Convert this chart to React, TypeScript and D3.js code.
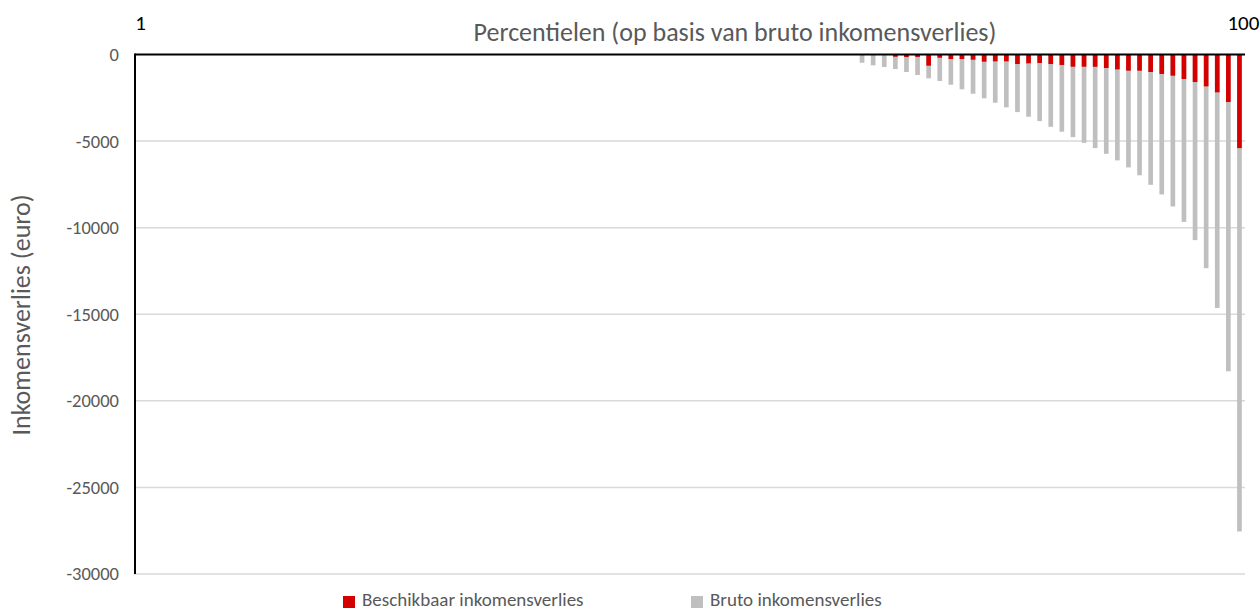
import React, { useEffect, useRef } from 'react'
import * as d3 from 'd3'

// percentiles 1..100; only the top ~35 show a visible loss
const percentiles: number[] = d3.range(1, 101)

const brutoTail: number[] = [
    -475, -625, -720, -840, -1010, -1185, -1375, -1530, -1745, -2010,
    -2265, -2530, -2785, -3050, -3325, -3595, -3845, -4175, -4460, -4770,
    -5100, -5405, -5735, -6115, -6520, -6975, -7525, -8080, -8775, -9665,
    -10720, -12340, -14635, -18295, -27545
]

const beschikbaarTail: number[] = [
    0, 0, 0, -130, -145, -140, -645, -185, -260, -260,
    -300, -415, -395, -395, -550, -510, -490, -550, -605, -705,
    -705, -710, -780, -860, -935, -935, -1010, -1125, -1225, -1415,
    -1590, -1840, -2185, -2745, -5405
]

const bruto: number[] = percentiles.map((p, i) => i < 100 - brutoTail.length ? 0 : brutoTail[i - (100 - brutoTail.length)])
const beschikbaar: number[] = percentiles.map((p, i) => i < 100 - beschikbaarTail.length ? 0 : beschikbaarTail[i - (100 - beschikbaarTail.length)])

const yTicks: number[] = [0, -5000, -10000, -15000, -20000, -25000, -30000]
const xLabels: number[] = [1, 100]

const legendItems = [
    { label: 'Beschikbaar inkomensverlies', color: '#d40000' },
    { label: 'Bruto inkomensverlies', color: '#bfbfbf' },
]

const App = () => {
    const ref = useRef<HTMLDivElement>(null)

    useEffect(() => {
        document.body.style.margin = '0'
        d3.select(ref.current).selectAll('svg').remove()

        const width = 1260
        const height = 611
        const left = 135, right = 1245, top = 54.5, bottom = 574
        const font = 'Calibri, Carlito, "Open Sans", sans-serif'

        const svg = d3.select(ref.current)
            .append('svg')
            .attr('width', width)
            .attr('height', height)
            .attr('viewBox', `0 0 ${width} ${height}`)
            .style('display', 'block')
            .style('background', '#fff')

        const xScale = d3.scaleBand<number>()
            .domain(percentiles)
            .range([left, right])
            .paddingInner(0.58)
            .paddingOuter(0.29)

        const yScale = d3.scaleLinear()
            .domain([-30000, 0])
            .range([bottom, top])

        // gridlines
        svg.append('g')
            .selectAll('line')
            .data(yTicks.filter(t => t !== 0))
            .join('line')
            .attr('x1', left)
            .attr('x2', right)
            .attr('y1', d => yScale(d))
            .attr('y2', d => yScale(d))
            .attr('stroke', '#d9d9d9')
            .attr('stroke-width', 1.5)

        // y tick labels
        svg.append('g')
            .selectAll('text')
            .data(yTicks)
            .join('text')
            .attr('x', 119)
            .attr('y', d => yScale(d))
            .attr('dy', '0.35em')
            .attr('text-anchor', 'end')
            .attr('fill', '#595959')
            .attr('font-family', font)
            .attr('font-size', 18.5)
            .text(d => d)

        // grey bars (bruto), red drawn over them (beschikbaar)
        svg.append('g')
            .selectAll('rect')
            .data(percentiles)
            .join('rect')
            .attr('x', d => xScale(d)!)
            .attr('width', xScale.bandwidth())
            .attr('y', yScale(0))
            .attr('height', (d, i) => yScale(bruto[i]) - yScale(0))
            .attr('fill', '#bfbfbf')

        svg.append('g')
            .selectAll('rect')
            .data(percentiles)
            .join('rect')
            .attr('x', d => xScale(d)!)
            .attr('width', xScale.bandwidth())
            .attr('y', yScale(0))
            .attr('height', (d, i) => yScale(beschikbaar[i]) - yScale(0))
            .attr('fill', '#d40000')

        // axis lines
        svg.append('line')
            .attr('x1', left).attr('x2', right)
            .attr('y1', yScale(0)).attr('y2', yScale(0))
            .attr('stroke', '#000').attr('stroke-width', 2)

        svg.append('line')
            .attr('x1', left).attr('x2', left)
            .attr('y1', yScale(0) - 1).attr('y2', bottom)
            .attr('stroke', '#000').attr('stroke-width', 2)

        // category labels at top
        svg.append('g')
            .selectAll('text')
            .data(xLabels)
            .join('text')
            .attr('x', d => xScale(d)! + xScale.bandwidth() / 2 + (d === 100 ? 4 : 0))
            .attr('y', 30)
            .attr('text-anchor', 'middle')
            .attr('fill', '#000')
            .attr('font-family', font)
            .attr('font-size', 21)
            .text(d => d)

        svg.append('text')
            .attr('x', 735)
            .attr('y', 41)
            .attr('text-anchor', 'middle')
            .attr('fill', '#595959')
            .attr('font-family', font)
            .attr('font-size', 26)
            .text('Percentielen (op basis van bruto inkomensverlies)')

        svg.append('text')
            .attr('transform', 'translate(30,315) rotate(-90)')
            .attr('text-anchor', 'middle')
            .attr('fill', '#595959')
            .attr('font-family', font)
            .attr('font-size', 26)
            .text('Inkomensverlies (euro)')

        // legend
        const legendX = [343, 691]
        const legend = svg.append('g')
            .selectAll('g')
            .data(legendItems)
            .join('g')
            .attr('transform', (d, i) => `translate(${legendX[i]},596)`)

        legend.append('rect')
            .attr('width', 12)
            .attr('height', 12)
            .attr('fill', d => d.color)

        legend.append('text')
            .attr('x', 19)
            .attr('y', 10)
            .attr('fill', '#595959')
            .attr('font-family', font)
            .attr('font-size', 19)
            .text(d => d.label)
    }, [])

    return <div ref={ref} />
}

export default App
